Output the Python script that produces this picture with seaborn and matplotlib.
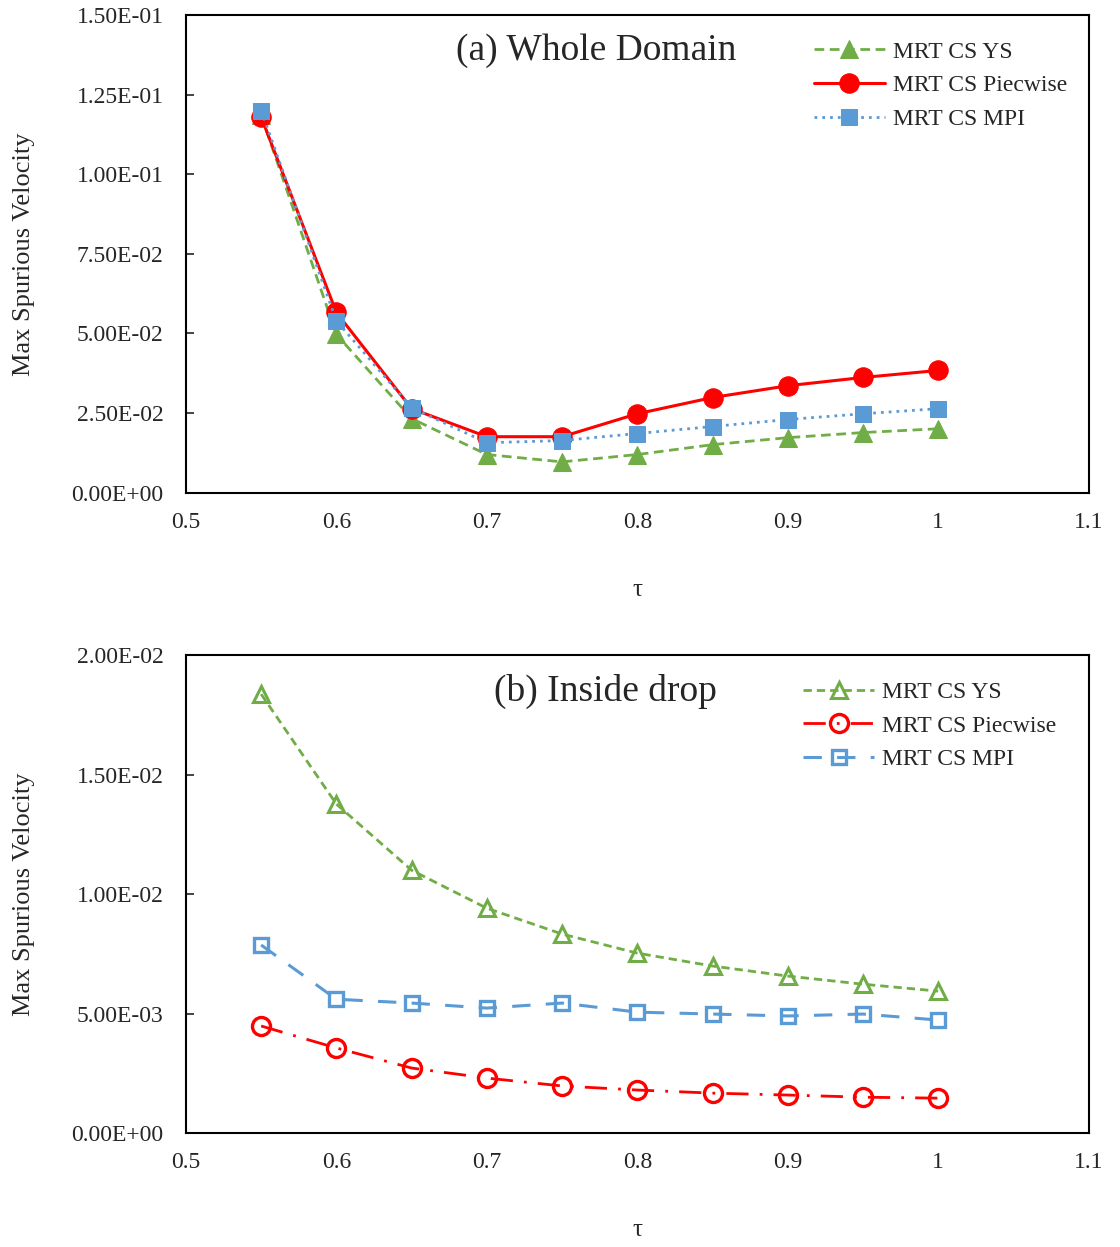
import numpy as np
import pandas as pd
import matplotlib
matplotlib.use("Agg")
import matplotlib.pyplot as plt
import seaborn as sns
from matplotlib.ticker import FormatStrFormatter, MultipleLocator

sns.set_theme(style="white")
plt.rcParams.update({
    "font.family": ["Liberation Serif", "DejaVu Serif"],
    "font.size": 17,
})

# ---- data ----
tau = [0.55, 0.6, 0.65, 0.7, 0.75, 0.8, 0.85, 0.9, 0.95, 1.0]

# (a) Whole domain
whole_ys = [0.1185, 0.0497, 0.0233, 0.0120, 0.0097, 0.0120, 0.0151, 0.0173, 0.0189, 0.0201]
whole_pw = [0.1180, 0.0566, 0.0264, 0.0176, 0.0176, 0.0248, 0.0299, 0.0336, 0.0362, 0.0384]
whole_mpi = [0.1200, 0.0540, 0.0267, 0.0157, 0.0164, 0.0186, 0.0208, 0.0230, 0.0248, 0.0264]

# (b) Inside drop
drop_ys = [0.01837, 0.01377, 0.01100, 0.00941, 0.00833, 0.00753, 0.00699, 0.00657, 0.00623, 0.00594]
drop_pw = [0.00448, 0.00356, 0.00272, 0.00230, 0.00197, 0.00180, 0.00167, 0.00159, 0.00150, 0.00146]
drop_mpi = [0.00787, 0.00560, 0.00544, 0.00523, 0.00544, 0.00506, 0.00498, 0.00490, 0.00498, 0.00473]

labels = ["MRT CS YS", "MRT CS Piecwise", "MRT CS MPI"]

GREEN = "#70ad47"
RED = "#ff0000"
BLUE = "#5b9bd5"

fig, axes = plt.subplots(2, 1, figsize=(11.2, 12.47), dpi=100)
fig.subplots_adjust(left=0.166, right=0.972, top=0.988, bottom=0.0914, hspace=0.34)


def draw_panel(ax, series, styles, ymax, ystep, title, title_x, leg_x):
    for vals, lab, st in zip(series, labels, styles):
        df = pd.DataFrame({"tau": tau, "v": vals})
        sns.lineplot(data=df, x="tau", y="v", ax=ax, label=lab, **st)
    ax.set_xlim(0.5, 1.1)
    ax.set_ylim(0, ymax)
    ax.xaxis.set_major_locator(MultipleLocator(0.1))
    ax.yaxis.set_major_locator(MultipleLocator(ystep))
    ax.xaxis.set_major_formatter(FormatStrFormatter("%g"))
    ax.yaxis.set_major_formatter(FormatStrFormatter("%.2E"))
    ax.tick_params(axis="y", direction="in", length=6, width=1.2, left=True, labelsize=17, pad=16)
    ax.tick_params(axis="x", length=0, labelsize=17, pad=14)
    for sp in ax.spines.values():
        sp.set_color("black")
        sp.set_linewidth(1.5)
    ax.set_xlabel("τ", fontsize=18, labelpad=33)
    ax.set_ylabel("Max Spurious Velocity", fontsize=19, labelpad=26)
    ax.text(title_x, 0.925, title, transform=ax.transAxes, ha="center", va="center", fontsize=27)
    ax.legend(loc="upper right", bbox_to_anchor=(leg_x, 0.99), frameon=False,
              fontsize=17, handlelength=3.0, handletextpad=0.35, labelspacing=0.52)


styles_a = [
    dict(color=GREEN, linestyle=(0, (3.5, 2)), linewidth=2, marker="^", markersize=13,
         markeredgecolor=GREEN, markerfacecolor=GREEN),
    dict(color=RED, linestyle="-", linewidth=2.2, marker="o", markersize=14,
         markeredgecolor=RED, markerfacecolor=RED),
    dict(color=BLUE, linestyle=(0, (1, 1.8)), linewidth=2, marker="s", markersize=11,
         markeredgecolor=BLUE, markerfacecolor=BLUE),
]
styles_b = [
    dict(color=GREEN, linestyle=(0, (3, 1.8)), linewidth=2, marker="^", markersize=12,
         markeredgecolor=GREEN, markerfacecolor="none", markeredgewidth=2.2),
    dict(color=RED, linestyle=(0, (8, 4, 1, 4)), linewidth=2, marker="o", markersize=13,
         markeredgecolor=RED, markerfacecolor="none", markeredgewidth=2.4),
    dict(color=BLUE, linestyle=(0, (6, 5)), linewidth=2.2, marker="s", markersize=10,
         markeredgecolor=BLUE, markerfacecolor="none", markeredgewidth=2.4),
]

draw_panel(axes[0], [whole_ys, whole_pw, whole_mpi], styles_a, 0.15, 0.025,
           "(a) Whole Domain", 0.455, 1.0)
draw_panel(axes[1], [drop_ys, drop_pw, drop_mpi], styles_b, 0.02, 0.005,
           "(b) Inside drop", 0.465, 0.988)

fig.savefig("out.png", dpi=100, facecolor="white")
